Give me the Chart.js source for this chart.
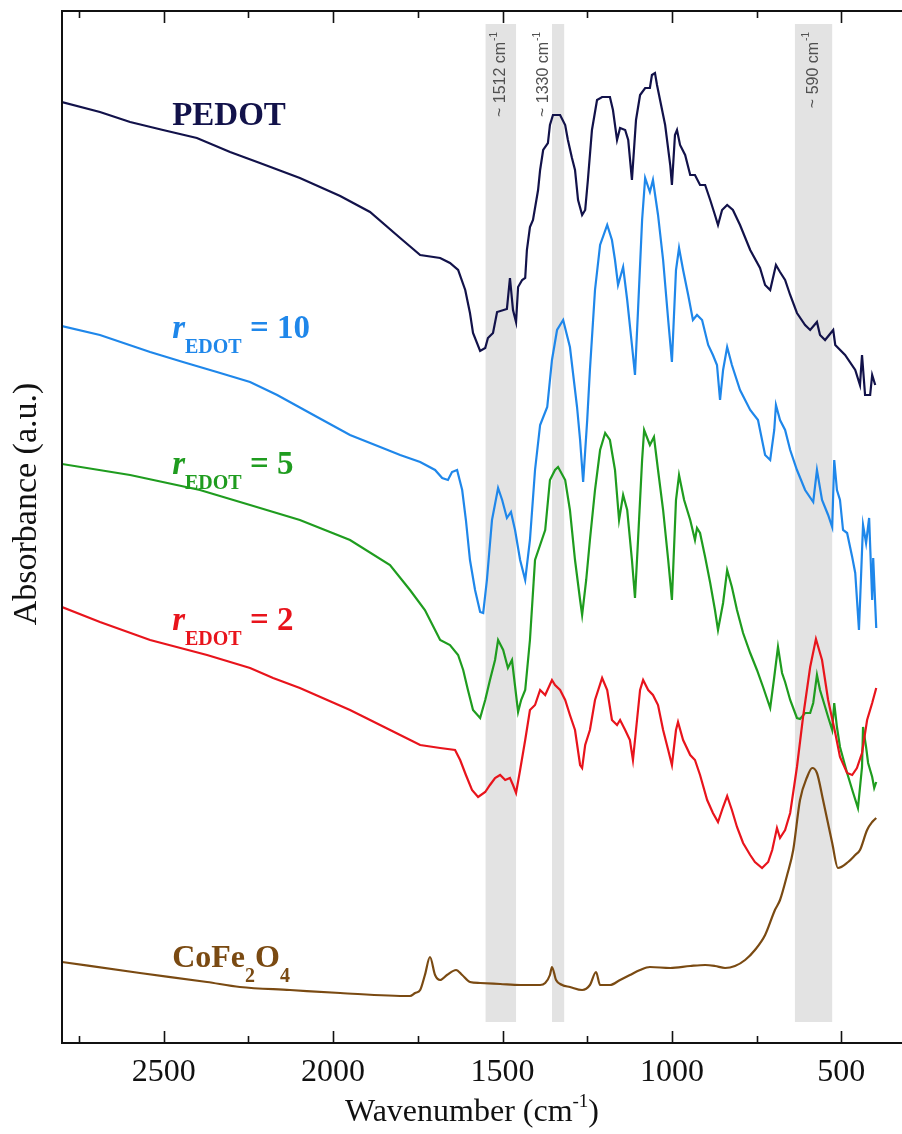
<!DOCTYPE html>
<html>
<head>
<meta charset="utf-8">
<script src="https://cdn.jsdelivr.net/npm/chart.js@4.4.1/dist/chart.umd.min.js"></script>
<style>
  html, body { margin: 0; padding: 0; background: #fff; }
  canvas { display: block; }
</style>
</head>
<body>
<canvas id="c" width="902" height="1134"></canvas>
<script>
// FTIR spectra: wavenumber (cm-1) against absorbance (a.u., curves offset vertically)

const pedotWn = [2800,2688,2599,2502,2402,2304,2216,2098,1979,1891,1802,1743,1684,1655,1631,1610,1596,1587,1566,1551,1543,1528,1516,1487,1478,1469,1460,1454,1442,1433,1428,1419,1410,1395,1389,1380,1366,1360,1351,1330,1315,1307,1295,1286,1277,1265,1256,1248,1236,1221,1206,1183,1174,1162,1153,1138,1129,1118,1106,1094,1079,1065,1059,1050,1044,1035,1020,1005,1000,991,985,976,961,946,932,917,902,887,873,864,852,837,820,799,769,740,725,710,693,681,666,651,631,607,592,572,563,548,524,518,489,459,445,439,430,415,409,400];
const pedotAbs = [0.941,0.931,0.921,0.913,0.905,0.891,0.880,0.865,0.847,0.831,0.805,0.788,0.785,0.780,0.773,0.753,0.730,0.710,0.692,0.695,0.705,0.710,0.731,0.734,0.765,0.733,0.721,0.756,0.763,0.765,0.793,0.816,0.823,0.853,0.873,0.893,0.900,0.918,0.928,0.928,0.918,0.903,0.885,0.873,0.843,0.828,0.833,0.863,0.913,0.943,0.946,0.946,0.933,0.903,0.915,0.913,0.903,0.863,0.923,0.948,0.955,0.955,0.968,0.970,0.958,0.943,0.918,0.878,0.858,0.908,0.913,0.898,0.888,0.868,0.868,0.858,0.858,0.843,0.828,0.818,0.833,0.838,0.833,0.818,0.793,0.775,0.758,0.753,0.778,0.771,0.763,0.748,0.730,0.718,0.713,0.721,0.708,0.703,0.713,0.698,0.688,0.673,0.658,0.688,0.648,0.648,0.668,0.658];

const r10Wn = [2800,2688,2540,2443,2343,2245,2165,2047,1950,1861,1802,1743,1699,1678,1661,1649,1634,1619,1608,1596,1581,1566,1557,1546,1531,1513,1501,1487,1475,1463,1448,1433,1419,1404,1389,1368,1354,1339,1321,1301,1280,1271,1262,1250,1242,1227,1212,1191,1177,1168,1159,1144,1132,1118,1109,1100,1088,1079,1065,1056,1041,1026,1011,1000,988,979,967,952,938,926,911,893,879,867,858,849,837,823,799,769,746,725,710,698,693,681,666,651,631,607,583,572,557,539,527,521,513,504,495,483,468,459,448,436,427,418,409,406,397];
const r10Abs = [0.717,0.708,0.691,0.681,0.671,0.661,0.648,0.626,0.608,0.596,0.588,0.581,0.573,0.565,0.563,0.571,0.573,0.553,0.523,0.483,0.453,0.431,0.430,0.463,0.523,0.555,0.543,0.525,0.531,0.513,0.483,0.463,0.503,0.573,0.618,0.636,0.683,0.713,0.723,0.696,0.636,0.603,0.561,0.623,0.673,0.753,0.798,0.818,0.803,0.783,0.758,0.776,0.743,0.698,0.668,0.733,0.823,0.865,0.851,0.863,0.828,0.783,0.723,0.681,0.773,0.795,0.773,0.748,0.723,0.728,0.723,0.698,0.688,0.678,0.643,0.673,0.696,0.678,0.653,0.633,0.623,0.588,0.583,0.613,0.638,0.623,0.613,0.593,0.573,0.553,0.541,0.573,0.543,0.528,0.516,0.583,0.553,0.543,0.513,0.510,0.486,0.470,0.413,0.518,0.500,0.525,0.443,0.485,0.415];

const r5Wn = [2800,2599,2393,2245,2098,1950,1832,1773,1729,1699,1684,1655,1631,1616,1602,1587,1566,1551,1537,1522,1513,1498,1484,1472,1454,1445,1433,1419,1404,1389,1374,1360,1345,1336,1315,1301,1286,1271,1265,1253,1242,1227,1212,1197,1183,1168,1156,1144,1132,1118,1109,1100,1088,1082,1065,1053,1041,1026,1011,1000,988,979,964,946,932,926,917,902,887,873,864,849,837,823,808,790,769,749,731,710,698,687,675,666,651,631,622,607,592,583,572,563,554,539,527,521,513,504,483,465,451,439,436,427,421,409,403,397];
const r5Abs = [0.579,0.568,0.553,0.538,0.523,0.503,0.478,0.453,0.433,0.413,0.403,0.398,0.388,0.373,0.353,0.333,0.325,0.343,0.363,0.383,0.403,0.393,0.375,0.383,0.331,0.343,0.353,0.403,0.483,0.498,0.513,0.563,0.573,0.576,0.563,0.533,0.483,0.443,0.428,0.463,0.503,0.553,0.593,0.610,0.603,0.573,0.523,0.548,0.533,0.483,0.445,0.503,0.583,0.613,0.598,0.606,0.573,0.533,0.483,0.443,0.543,0.568,0.543,0.523,0.503,0.515,0.510,0.486,0.460,0.433,0.413,0.440,0.473,0.456,0.433,0.410,0.390,0.373,0.356,0.335,0.366,0.396,0.370,0.361,0.343,0.325,0.324,0.330,0.330,0.340,0.368,0.353,0.343,0.326,0.313,0.340,0.316,0.296,0.270,0.250,0.235,0.276,0.316,0.296,0.280,0.266,0.255,0.261];

const r2Wn = [2800,2688,2540,2372,2245,2177,2098,1950,1802,1743,1684,1640,1625,1608,1590,1572,1551,1537,1522,1507,1492,1478,1469,1460,1448,1433,1419,1404,1389,1374,1354,1345,1330,1315,1301,1286,1271,1265,1256,1242,1227,1206,1191,1177,1162,1153,1138,1124,1115,1103,1094,1085,1070,1056,1041,1026,1011,1000,988,982,967,946,932,917,896,879,864,849,837,823,808,790,769,755,734,716,704,690,681,666,651,631,613,592,575,557,539,518,504,483,468,454,439,424,409,397];
const r2Abs = [0.436,0.421,0.403,0.388,0.375,0.365,0.355,0.333,0.308,0.298,0.295,0.293,0.283,0.268,0.253,0.246,0.251,0.258,0.265,0.268,0.263,0.265,0.258,0.250,0.273,0.303,0.333,0.338,0.353,0.348,0.363,0.358,0.353,0.343,0.328,0.313,0.278,0.275,0.298,0.313,0.343,0.365,0.353,0.323,0.318,0.323,0.313,0.303,0.283,0.323,0.353,0.363,0.353,0.348,0.338,0.313,0.293,0.278,0.313,0.321,0.303,0.288,0.283,0.268,0.243,0.230,0.221,0.236,0.247,0.233,0.216,0.200,0.188,0.181,0.175,0.181,0.193,0.215,0.205,0.213,0.230,0.276,0.326,0.376,0.404,0.383,0.343,0.310,0.286,0.270,0.268,0.275,0.290,0.323,0.340,0.355];

const coWn = [2800,2570,2372,2275,2127,1979,1773,1758,1743,1729,1714,1699,1684,1664,1637,1619,1596,1566,1507,1448,1389,1374,1360,1354,1342,1324,1301,1265,1242,1224,1212,1183,1153,1124,1094,1065,1005,946,902,873,843,814,784,755,725,696,681,660,642,622,601,586,572,554,527,510,480,459,445,424,409,397];
const coAbs = [0.081,0.070,0.061,0.056,0.053,0.050,0.047,0.050,0.053,0.068,0.086,0.068,0.063,0.068,0.073,0.068,0.061,0.060,0.059,0.058,0.058,0.060,0.068,0.076,0.063,0.058,0.056,0.053,0.058,0.071,0.058,0.058,0.063,0.068,0.073,0.076,0.075,0.077,0.078,0.077,0.075,0.077,0.083,0.093,0.108,0.133,0.143,0.168,0.193,0.243,0.266,0.275,0.270,0.243,0.200,0.175,0.181,0.188,0.193,0.213,0.221,0.225];

// highlighted absorption regions (cm-1)
const bandFrom = [1550, 1354, 637];
const bandTo = [1460, 1318, 527];
const bandText = ['~ 1512 cm', '~ 1330 cm', '~ 590 cm'];
const bandTextWn = [1505, 1378, 582];

// x axis tick labels and minor tick spacing
const xTickLabels = [2500, 2000, 1500, 1000, 500];
const xMinorStep = 250;

const SERIF = '"Liberation Serif", "Times New Roman", serif';
const SANS = '"Liberation Sans", Arial, sans-serif';

const COLORS = {
  pedot: '#12124a',
  r10: '#1f87ea',
  r5: '#1f9c1f',
  r2: '#e8141c',
  co: '#7a4a12'
};

function pairs(xs, ys) {
  const n = Math.min(xs.length, ys.length);
  const out = [];
  for (let i = 0; i < n; i++) out.push({ x: xs[i], y: ys[i] });
  return out;
}

// curve labels, anchored in data coordinates
const curveLabels = [
  { wn: 2475, abs: 0.918, color: COLORS.pedot, parts: [{ t: 'PEDOT', f: 'bold', s: 33, dy: 0 }] },
  { wn: 2475, abs: 0.705, color: COLORS.r10, parts: [{ t: 'r', f: 'italic bold', s: 33, dy: 0 }, { t: 'EDOT', f: 'bold', s: 20, dy: 15 }, { t: ' = 10', f: 'bold', s: 33, dy: 0 }] },
  { wn: 2475, abs: 0.569, color: COLORS.r5, parts: [{ t: 'r', f: 'italic bold', s: 33, dy: 0 }, { t: 'EDOT', f: 'bold', s: 20, dy: 15 }, { t: ' = 5', f: 'bold', s: 33, dy: 0 }] },
  { wn: 2475, abs: 0.413, color: COLORS.r2, parts: [{ t: 'r', f: 'italic bold', s: 33, dy: 0 }, { t: 'EDOT', f: 'bold', s: 20, dy: 15 }, { t: ' = 2', f: 'bold', s: 33, dy: 0 }] },
  { wn: 2475, abs: 0.076, color: COLORS.co, parts: [{ t: 'CoFe', f: 'bold', s: 32, dy: 0 }, { t: '2', f: 'bold', s: 20, dy: 15 }, { t: 'O', f: 'bold', s: 32, dy: 0 }, { t: '4', f: 'bold', s: 20, dy: 15 }] }
];

const decor = {
  id: 'decor',
  beforeDatasetsDraw(chart) {
    const { ctx, scales: { x, y } } = chart;
    ctx.save();
    ctx.fillStyle = '#e3e3e3';
    const yTop = y.getPixelForValue(1.019);
    const yBot = y.getPixelForValue(0.021);
    for (let i = 0; i < bandFrom.length; i++) {
      const a = x.getPixelForValue(bandFrom[i]);
      const b = x.getPixelForValue(bandTo[i]);
      ctx.fillRect(Math.min(a, b), yTop, Math.abs(b - a), yBot - yTop);
    }
    // rotated band annotations
    for (let i = 0; i < bandText.length; i++) {
      const cx = x.getPixelForValue(bandTextWn[i]);
      const cy = y.getPixelForValue(1.011);
      ctx.save();
      ctx.translate(cx, cy);
      ctx.rotate(-Math.PI / 2);
      ctx.fillStyle = '#505050';
      ctx.textBaseline = 'middle';
      ctx.textAlign = 'left';
      ctx.font = '16px ' + SANS;
      const wMain = ctx.measureText(bandText[i]).width;
      ctx.font = '10px ' + SANS;
      const wSup = ctx.measureText('-1').width;
      const start = -(wMain + wSup + 1);
      ctx.font = '16px ' + SANS;
      ctx.fillText(bandText[i], start, 0);
      ctx.font = '10px ' + SANS;
      ctx.fillText('-1', start + wMain + 1, -7);
      ctx.restore();
    }
    ctx.restore();
  },
  afterDatasetsDraw(chart) {
    const { ctx, chartArea: ca, scales: { x, y } } = chart;
    ctx.save();
    // frame
    ctx.strokeStyle = '#111';
    ctx.lineWidth = 2;
    ctx.beginPath();
    ctx.moveTo(ca.right + 2, ca.top);
    ctx.lineTo(ca.left, ca.top);
    ctx.lineTo(ca.left, ca.bottom);
    ctx.lineTo(ca.right + 2, ca.bottom);
    ctx.stroke();
    // inward ticks on top and bottom
    ctx.lineWidth = 1.6;
    for (let t = xMinorStep; t <= x.max; t += xMinorStep) {
      if (t < x.min) continue;
      const px = Math.round(x.getPixelForValue(t)) + 0.5;
      const len = xTickLabels.includes(t) ? 12 : 7;
      ctx.beginPath();
      ctx.moveTo(px, ca.bottom);
      ctx.lineTo(px, ca.bottom - len);
      ctx.moveTo(px, ca.top);
      ctx.lineTo(px, ca.top + len);
      ctx.stroke();
    }
    // curve labels
    ctx.textBaseline = 'alphabetic';
    ctx.textAlign = 'left';
    for (const lab of curveLabels) {
      let px = x.getPixelForValue(lab.wn);
      const py = y.getPixelForValue(lab.abs);
      ctx.fillStyle = lab.color;
      for (const p of lab.parts) {
        ctx.font = p.f + ' ' + p.s + 'px ' + SERIF;
        ctx.fillText(p.t, px, py + p.dy);
        px += ctx.measureText(p.t).width;
      }
    }
    // axis titles
    ctx.fillStyle = '#111';
    ctx.font = '32px ' + SERIF;
    const main = 'Wavenumber (cm';
    const wMain = ctx.measureText(main).width;
    ctx.font = '19px ' + SERIF;
    const wSup = ctx.measureText('-1').width;
    ctx.font = '32px ' + SERIF;
    const wEnd = ctx.measureText(')').width;
    const total = wMain + wSup + wEnd;
    const tx = 472 - total / 2;
    const ty = 1121;
    ctx.fillText(main, tx, ty);
    ctx.font = '19px ' + SERIF;
    ctx.fillText('-1', tx + wMain, ty - 14);
    ctx.font = '32px ' + SERIF;
    ctx.fillText(')', tx + wMain + wSup, ty);

    ctx.save();
    ctx.translate(36, 504);
    ctx.rotate(-Math.PI / 2);
    ctx.textAlign = 'center';
    ctx.font = '34px ' + SERIF;
    ctx.fillText('Absorbance (a.u.)', 0, 0);
    ctx.restore();
    ctx.restore();
  }
};

function lineSet(label, xs, ys, color, smooth) {
  return {
    label,
    data: pairs(xs, ys),
    borderColor: color,
    backgroundColor: color,
    borderWidth: 2.2,
    pointRadius: 0,
    tension: smooth ? 0.3 : 0,
    cubicInterpolationMode: smooth ? 'monotone' : 'default',
    fill: false
  };
}

new Chart(document.getElementById('c'), {
  type: 'line',
  data: {
    datasets: [
      lineSet('CoFe2O4', coWn, coAbs, COLORS.co, true),
      lineSet('rEDOT = 2', r2Wn, r2Abs, COLORS.r2, false),
      lineSet('rEDOT = 5', r5Wn, r5Abs, COLORS.r5, false),
      lineSet('rEDOT = 10', r10Wn, r10Abs, COLORS.r10, false),
      lineSet('PEDOT', pedotWn, pedotAbs, COLORS.pedot, false)
    ]
  },
  options: {
    responsive: false,
    animation: false,
    devicePixelRatio: 1,
    layout: { padding: { left: 62, top: 11, right: 0, bottom: 0 } },
    plugins: { legend: { display: false }, tooltip: { enabled: false } },
    scales: {
      x: {
        type: 'linear',
        reverse: true,
        min: 321,
        max: 2800,
        border: { display: false },
        grid: { display: false, drawTicks: false },
        ticks: {
          maxRotation: 0,
          autoSkip: false,
          padding: 10,
          color: '#111',
          font: { family: SERIF, size: 32 },
          callback: (v) => String(v)
        },
        afterBuildTicks: (s) => { s.ticks = xTickLabels.map((v) => ({ value: v })); },
        afterFit: (s) => { s.height = 91; }
      },
      y: { display: false, min: 0, max: 1.032 }
    }
  },
  plugins: [decor]
});
</script>
</body>
</html>
